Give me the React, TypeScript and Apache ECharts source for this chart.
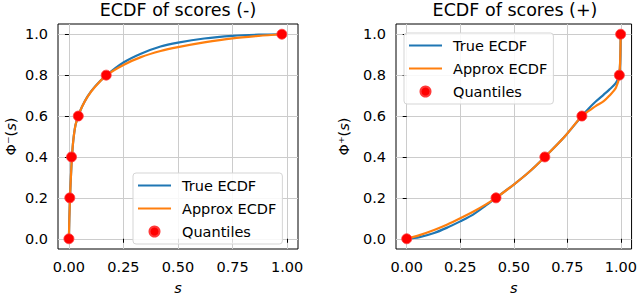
import React, { useEffect, useRef } from 'react';
import * as echarts from 'echarts';

const FONT = 'DejaVu Sans';

// tick labels
const sTicks = [0, 0.25, 0.5, 0.75, 1.0];
const phiTicks = [0, 0.2, 0.4, 0.6, 0.8, 1.0];

// left panel: ECDF of negative scores
const negS = [0, 0.002, 0.005, 0.009, 0.014, 0.02, 0.03, 0.043, 0.06, 0.085, 0.12, 0.173, 0.25, 0.33, 0.42, 0.5, 0.62, 0.75, 0.87, 0.976];
const negTrue = [0, 0.1, 0.2, 0.3, 0.4, 0.48, 0.555, 0.6, 0.645, 0.695, 0.745, 0.8, 0.862, 0.905, 0.94, 0.959, 0.979, 0.992, 0.998, 1.0];
const negApprox = [0, 0.1, 0.2, 0.3, 0.4, 0.48, 0.555, 0.6, 0.645, 0.694, 0.743, 0.8, 0.85, 0.888, 0.918, 0.937, 0.96, 0.98, 0.992, 1.0];
const negQuantS = [0, 0.004, 0.012, 0.043, 0.171, 0.976];

// right panel: ECDF of positive scores
const posS = [0, 0.06, 0.128, 0.19, 0.25, 0.31, 0.37, 0.417, 0.5, 0.57, 0.645, 0.738, 0.818, 0.85, 0.884, 0.92, 0.946, 0.977, 0.993, 0.999];
const posTrue = [0, 0.008, 0.028, 0.055, 0.085, 0.118, 0.163, 0.2, 0.265, 0.325, 0.4, 0.5, 0.6, 0.637, 0.672, 0.705, 0.729, 0.762, 0.8, 1.0];
const posApprox = [0, 0.018, 0.043, 0.07, 0.1, 0.132, 0.168, 0.2, 0.265, 0.325, 0.4, 0.5, 0.6, 0.625, 0.65, 0.673, 0.699, 0.738, 0.8, 1.0];
const posQuantS = [0, 0.417, 0.645, 0.818, 0.993, 0.999];

const quantPhi = [0, 0.2, 0.4, 0.6, 0.8, 1.0];

const BLUE = '#1f77b4';
const ORANGE = '#ff7f0e';
const RED = '#ff0000';

const zip = (xs: number[], ys: number[]) => xs.map((x, i) => [x, ys[i]]);

const linePath = 'path://M0 0H33V2.2H0Z';

function xAxisCfg(idx: number) {
  return {
    type: 'value',
    gridIndex: idx,
    min: -0.05,
    max: 1.05,
    name: 's',
    nameLocation: 'middle',
    nameGap: 31,
    nameTextStyle: { fontFamily: FONT, fontSize: 14.5, fontStyle: 'italic', color: '#000' },
    axisLine: { show: false },
    axisTick: { show: true, length: 4, customValues: sTicks, lineStyle: { color: '#000', width: 1 } },
    axisLabel: {
      customValues: sTicks,
      margin: 10,
      color: '#000',
      fontFamily: FONT,
      fontSize: 14.5,
      formatter: (v: number) => v.toFixed(2),
    },
    splitLine: { show: true, lineStyle: { color: '#cccccc', width: 1 } },
  };
}

function yAxisCfg(idx: number, sign: string, gap: number) {
  return {
    type: 'value',
    gridIndex: idx,
    min: -0.05,
    max: 1.05,
    name: `{a|Φ${sign}(}{i|s}{a|)}`,
    nameLocation: 'middle',
    nameGap: gap,
    nameRotate: 90,
    nameTextStyle: {
      rich: {
        a: { fontFamily: FONT, fontSize: 14.5, color: '#000' },
        i: { fontFamily: FONT, fontSize: 14.5, fontStyle: 'italic', color: '#000' },
      },
    },
    axisLine: { show: false },
    axisTick: { show: true, length: 4, customValues: phiTicks, lineStyle: { color: '#000', width: 1 } },
    axisLabel: {
      customValues: phiTicks,
      margin: 10,
      color: '#000',
      fontFamily: FONT,
      fontSize: 14.5,
      formatter: (v: number) => v.toFixed(1),
    },
    splitLine: { show: true, lineStyle: { color: '#cccccc', width: 1 } },
  };
}

function legendCfg(left: number, top: number) {
  return {
    orient: 'vertical',
    left,
    top,
    selectedMode: false,
    itemWidth: 33,
    itemHeight: 10,
    itemGap: 8,
    padding: [5, 6, 5, 5],
    backgroundColor: 'rgba(255,255,255,0.85)',
    borderColor: '#d5d5d5',
    borderWidth: 1,
    borderRadius: 3,
    textStyle: { fontFamily: FONT, fontSize: 14.5, color: '#000', padding: [0, 0, 0, 6] },
    data: [
      { name: 'True ECDF', icon: linePath },
      { name: 'Approx ECDF', icon: linePath },
      { name: 'Quantiles', icon: 'circle', itemStyle: { opacity: 1 } },
    ],
  };
}

function seriesFor(idx: number, xs: number[], tr: number[], ap: number[], qs: number[]) {
  return [
    {
      name: 'True ECDF',
      type: 'line',
      xAxisIndex: idx,
      yAxisIndex: idx,
      data: zip(xs, tr),
      showSymbol: false,
      smooth: 0.3,
      color: BLUE,
      lineStyle: { color: BLUE, width: 2.2 },
      z: 2,
    },
    {
      name: 'Approx ECDF',
      type: 'line',
      xAxisIndex: idx,
      yAxisIndex: idx,
      data: zip(xs, ap),
      showSymbol: false,
      smooth: 0.3,
      color: ORANGE,
      lineStyle: { color: ORANGE, width: 2.2 },
      z: 3,
    },
    {
      name: 'Quantiles',
      type: 'scatter',
      xAxisIndex: idx,
      yAxisIndex: idx,
      data: zip(qs, quantPhi),
      symbolSize: 10,
      color: RED,
      itemStyle: { color: RED, borderColor: '#ff3a3a', borderWidth: 0.8, opacity: 1 },
      z: 4,
    },
  ];
}

export default function App() {
  const ref = useRef<HTMLDivElement>(null);
  useEffect(() => {
    document.body.style.margin = '0';
    const chart = echarts.init(ref.current!, null, { renderer: 'svg' });
    chart.setOption({
      animation: false,
      backgroundColor: '#fff',
      textStyle: { fontFamily: FONT },
      title: [
        { text: 'ECDF of scores (-)', left: 178, top: 1, textAlign: 'center', padding: 0, textStyle: { fontFamily: FONT, fontSize: 17.5, fontWeight: 'normal', color: '#000' } },
        { text: 'ECDF of scores (+)', left: 515, top: 1, textAlign: 'center', padding: 0, textStyle: { fontFamily: FONT, fontSize: 17.5, fontWeight: 'normal', color: '#000' } },
      ],
      grid: [
        { left: 58, top: 24, width: 240, height: 231, show: true, borderColor: '#000', borderWidth: 1, backgroundColor: 'transparent' },
        { left: 396, top: 24, width: 238, height: 231, show: true, borderColor: '#000', borderWidth: 1, backgroundColor: 'transparent' },
      ],
      xAxis: [xAxisCfg(0), xAxisCfg(1)],
      yAxis: [yAxisCfg(0, '⁻', 40), yAxisCfg(1, '⁺', 45)],
      legend: [legendCfg(133, 173), legendCfg(404, 33)],
      series: [
        ...seriesFor(0, negS, negTrue, negApprox, negQuantS),
        ...seriesFor(1, posS, posTrue, posApprox, posQuantS),
      ],
    });
    return () => chart.dispose();
  }, []);
  return <div ref={ref} style={{ position: 'fixed', left: 0, top: 0, width: 640, height: 300 }} />;
}
